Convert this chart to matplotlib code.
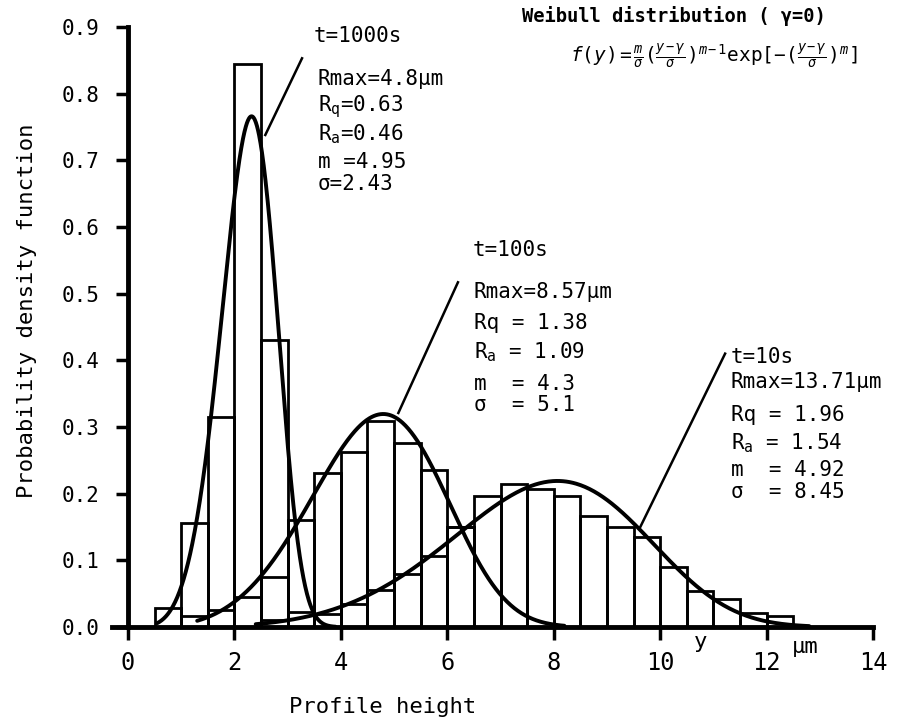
import numpy as np
import matplotlib
matplotlib.use("Agg")
import matplotlib.pyplot as plt

plt.rcParams["font.family"] = ["DejaVu Sans Mono", "DejaVu Sans"]
plt.rcParams["mathtext.fontset"] = "custom"
plt.rcParams["mathtext.rm"] = "DejaVu Sans Mono"
plt.rcParams["mathtext.it"] = "DejaVu Sans Mono:italic"
plt.rcParams["mathtext.bf"] = "DejaVu Sans Mono:bold"

# Histogram bins (left edges, width 0.5 um) and densities
bin_width = 0.5
edges_1000 = [0.5, 1.0, 1.5, 2.0, 2.5]
dens_1000 = [0.029, 0.156, 0.315, 0.845, 0.43]

edges_100 = [1.0, 1.5, 2.0, 2.5, 3.0, 3.5, 4.0, 4.5, 5.0, 5.5, 6.0]
dens_100 = [0.016, 0.025, 0.045, 0.075, 0.161, 0.231, 0.263, 0.309, 0.276, 0.236, 0.15]

edges_10 = [2.5, 3.0, 3.5, 4.0, 4.5, 5.0, 5.5, 6.0, 6.5, 7.0,
            7.5, 8.0, 8.5, 9.0, 9.5, 10.0, 10.5, 11.0, 11.5, 12.0]
dens_10 = [0.01, 0.022, 0.02, 0.035, 0.055, 0.08, 0.107, 0.15, 0.196, 0.214,
           0.2075, 0.196, 0.166, 0.15, 0.135, 0.09, 0.0535, 0.0425, 0.021, 0.016]

# Fitted Weibull parameters (gamma = 0)
series_names = ["t=1000s", "t=100s", "t=10s"]
m_vals = [4.95, 4.3, 4.92]
sigma_vals = [2.43, 5.1, 8.45]
curve_spans = [(0.55, 3.9), (1.3, 8.2), (2.4, 12.8)]

x_ticks = [0, 2, 4, 6, 8, 10, 12, 14]
y_ticks = [0.0, 0.1, 0.2, 0.3, 0.4, 0.5, 0.6, 0.7, 0.8, 0.9]


def weibull_pdf(y, m, s):
    u = y / s
    return m / s * u ** (m - 1) * np.exp(-u ** m)


fig = plt.figure(figsize=(8.97, 7.19), dpi=100)
ax = fig.add_axes([0.1249, 0.128, 0.8484, 0.8345])
ax.set_xlim(-0.3, 14)
ax.set_ylim(0, 0.9)

bar_kw = dict(width=bin_width, align="edge", fill=False, edgecolor="black", linewidth=2.0)
ax.bar(edges_10, dens_10, **bar_kw)
ax.bar(edges_100, dens_100, **bar_kw)
ax.bar(edges_1000, dens_1000, **bar_kw)

for m, s, (a, b) in zip(m_vals, sigma_vals, curve_spans):
    xs = np.linspace(a, b, 500)
    ax.plot(xs, weibull_pdf(xs, m, s), color="black", lw=2.8, solid_capstyle="round")

# Spines and ticks
for side in ("top", "right"):
    ax.spines[side].set_visible(False)
ax.spines["left"].set_position(("data", 0))
ax.spines["left"].set_linewidth(3.5)
ax.spines["bottom"].set_linewidth(3.5)
ax.set_xticks(x_ticks)
ax.set_xticklabels([str(v) for v in x_ticks])
ax.set_yticks(y_ticks)
ax.set_yticklabels([f"{v:.1f}" for v in y_ticks])
ax.tick_params(axis="x", direction="out", length=9, width=2.5, pad=8, labelsize=17)
ax.tick_params(axis="y", direction="out", length=8.5, width=2.5, pad=12, labelsize=15)

# Annotation blocks
txt = dict(fontsize=15, color="black", va="center", ha="left")
blocks = [
    [(3.48, 0.886, "t=1000s"), (3.57, 0.822, "Rmax=4.8μm"),
     (3.57, 0.781, r"R$_\mathrm{q}$=0.63"), (3.57, 0.739, r"R$_\mathrm{a}$=0.46"),
     (3.57, 0.697, "m =4.95"), (3.57, 0.665, "σ=2.43")],
    [(6.47, 0.566, "t=100s"), (6.5, 0.502, "Rmax=8.57μm"),
     (6.5, 0.456, "Rq = 1.38"), (6.5, 0.412, r"R$_\mathrm{a}$ = 1.09"),
     (6.5, 0.365, "m  = 4.3"), (6.5, 0.333, "σ  = 5.1")],
    [(11.33, 0.405, "t=10s"), (11.33, 0.368, "Rmax=13.71μm"),
     (11.33, 0.318, "Rq = 1.96"), (11.33, 0.276, r"R$_\mathrm{a}$ = 1.54"),
     (11.33, 0.236, "m  = 4.92"), (11.33, 0.203, "σ  = 8.45")],
]
for lines in blocks:
    for x, y, s in lines:
        ax.text(x, y, s, clip_on=False, **txt)

# Leader lines from labels to curves
leaders = [((3.27, 0.853), (2.58, 0.738)),
           ((6.2, 0.517), (5.08, 0.321)),
           ((11.22, 0.41), (9.62, 0.149))]
for (x0, y0), (x1, y1) in leaders:
    ax.plot([x0, x1], [y0, y1], color="black", lw=1.8, clip_on=False)

# Distribution heading and formula
ax.text(7.4, 0.916, "Weibull distribution ( γ=0)", fontsize=13.5, fontweight="bold",
        ha="left", va="center", clip_on=False)
ax.text(11.0, 0.857,
        r"$f(y)=\frac{m}{\sigma}(\frac{y-\gamma}{\sigma})^{m-1}\mathrm{exp}[-(\frac{y-\gamma}{\sigma})^{m}]$",
        fontsize=14, ha="center", va="center", clip_on=False)

# Axis variable and unit marks
ax.text(10.75, -0.022, "y", fontsize=16, ha="center", va="center", clip_on=False)
ax.text(12.72, -0.03, "μm", fontsize=16, ha="center", va="center", clip_on=False)

fig.text(383 / 897, 1 - 707 / 719, "Profile height", fontsize=16, ha="center", va="center")
fig.text(27 / 897, 1 - 311 / 719, "Probability density function", fontsize=16,
         rotation=90, ha="center", va="center")

fig.savefig("out.png", dpi=100)
